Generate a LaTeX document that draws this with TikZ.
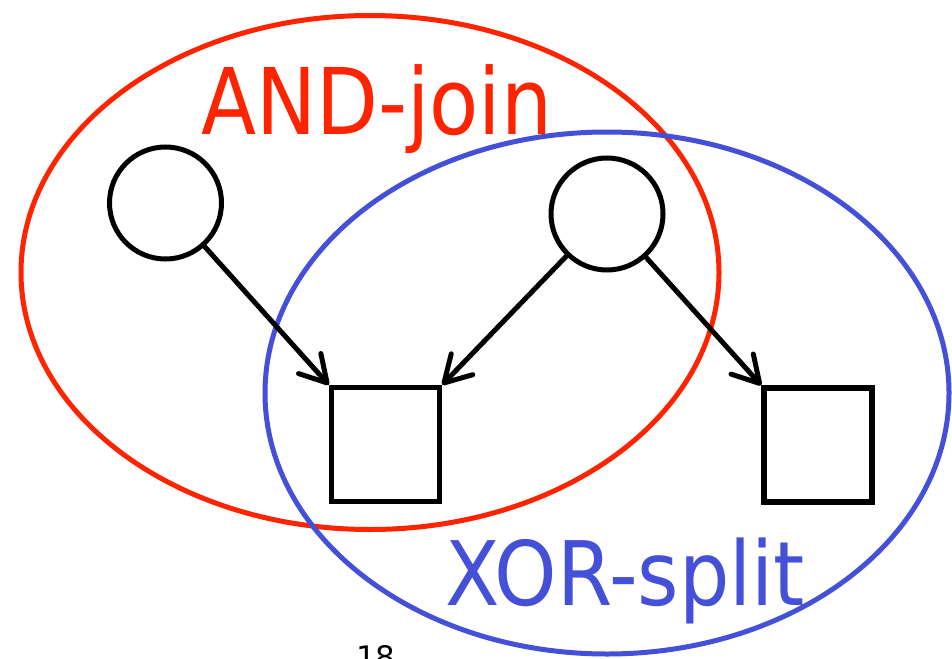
\documentclass[tikz,border=0pt]{standalone}
\usepackage{fontspec}
\setmainfont{DejaVu Sans}
\usetikzlibrary{arrows.meta}
\definecolor{andred}{HTML}{FF2400}
\definecolor{xorblue}{HTML}{4450D8}
\begin{document}
\begin{tikzpicture}[x=1pt,y=-1pt,
  place/.style={circle,draw,line width=5pt,minimum size=112pt,inner sep=0pt},
  trans/.style={rectangle,draw,line width=5.5pt,minimum width=108pt,minimum height=114pt,inner sep=0pt},
  flow/.style={line width=5pt,line cap=round,-{Straight Barb[length=26pt,width=30pt,line cap=round,line join=round]}},
  region/.style={line width=5pt}]
\useasboundingbox (0,0) rectangle (952,658);
\fill[white] (0,0) rectangle (952,658);
\clip (0,0) rectangle (952,658);
\draw[region,andred] (370,272.5) ellipse [x radius=349, y radius=257];
\draw[region,xorblue] (607,393) ellipse [x radius=342, y radius=261];
\node[place] (c1) at (165.5,203) {};
\node[place] (c2) at (607,214) {};
\node[trans] (s1) at (385.5,444.5) {};
\node[trans] (s2) at (818,445) {};
\draw[flow] (c1) -- (s1.north west);
\draw[flow] (c2) -- (s1.north east);
\draw[flow] (c2) -- (s2.north west);
\node[anchor=base west,inner sep=0pt,text=andred] (andlbl) at (201,134)
  {\scalebox{0.874}[1]{\fontsize{92pt}{92pt}\selectfont AND-join}};
\node[anchor=base west,inner sep=0pt,text=xorblue] (xorlbl) at (445,605)
  {\scalebox{0.893}[1]{\fontsize{89pt}{89pt}\selectfont XOR-split}};
\node[anchor=base west,inner sep=0pt] (pagenum) at (356,668)
  {\fontsize{31pt}{31pt}\selectfont 18};
\end{tikzpicture}
\end{document}
